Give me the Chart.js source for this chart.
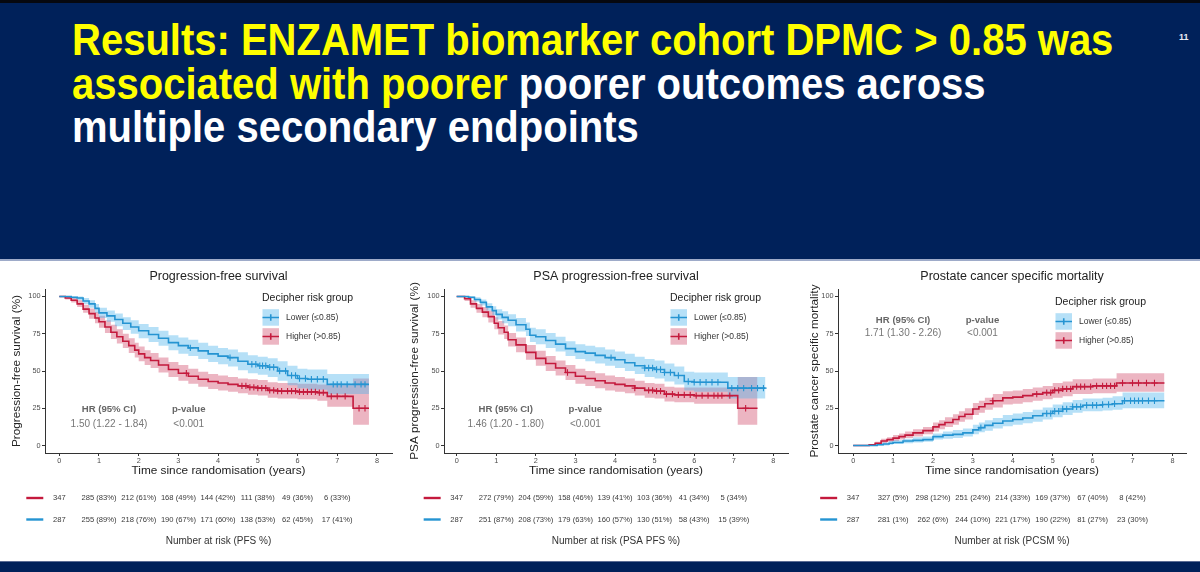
<!DOCTYPE html>
<html>
<head>
<meta charset="utf-8">
<script src="https://cdn.jsdelivr.net/npm/chart.js@4.4.1/dist/chart.umd.min.js"></script>
<style>
  body { margin: 0; width: 1200px; height: 572px; overflow: hidden; background: #00215a; position: relative;
         font-family: "Liberation Sans", Arial, sans-serif; }
  #topbar { position: absolute; left: 0; top: 0; width: 1200px; height: 3px; background: #06080f; }
  #heading { position: absolute; left: 72px; top: 18.8px; width: 1100px; font-weight: bold; font-size: 40px;
             line-height: 39.5px; color: #ffffff; white-space: nowrap;
             transform: scaleY(1.1); transform-origin: top left; }
  #heading .hl { color: #ffff00; }
  #pgnum { position: absolute; left: 1179px; top: 32px; font-size: 9px; font-weight: bold; color: #e8ecf5; }
  #panel { position: absolute; left: 0; top: 259px; width: 1200px; height: 300px; background: #fff;
           border-top: 2px solid #9eabc9; border-bottom: 1px solid #5a6c94; }
  canvas { position: absolute; top: 262px; }
</style>
</head>
<body>
<div id="topbar"></div>
<div id="heading"><span class="hl">Results: ENZAMET biomarker cohort DPMC &gt; 0.85 was<br>associated with poorer</span> poorer outcomes across<br>multiple secondary endpoints</div>
<div id="pgnum">11</div>
<div id="panel"></div>
<canvas id="c1" width="400" height="296" style="left:0px"></canvas>
<canvas id="c2" width="400" height="296" style="left:400px"></canvas>
<canvas id="c3" width="400" height="296" style="left:800px"></canvas>
<script>
const years = [0, 1, 2, 3, 4, 5, 6, 7, 8];
const yTicks = [0, 25, 50, 75, 100];

// Progression-free survival
const pfsLowT = [0, 0.3, 0.45, 0.6, 0.75, 0.9, 1.0, 1.2, 1.4, 1.6, 1.8, 2.0, 2.25, 2.5, 2.75, 3.0, 3.25, 3.5, 3.75, 4.0, 4.25, 4.5, 4.75, 5.0, 5.25, 5.5, 5.75, 6.0, 6.25, 6.75, 7.8];
const pfsLowS = [100, 99.5, 99, 97, 95, 92, 89, 87, 84.5, 82, 79.5, 77, 74.5, 72, 69, 67, 65.5, 63.5, 61.5, 60, 59, 56.5, 54.5, 53.5, 52.5, 50, 47, 45, 44.5, 41, 41];
const pfsLowLo = [100, 98.5, 97.5, 95, 92.5, 89, 85.5, 83, 80, 77.5, 75, 72, 69.5, 67, 64, 61.5, 60, 58, 56, 54.5, 53, 50.5, 48.5, 47.5, 46, 43.5, 40.5, 38.5, 37.5, 34.5, 34.5];
const pfsLowHi = [100, 100, 100, 99, 97.5, 95, 92.5, 90.5, 88.5, 86, 84, 81.5, 79.5, 77, 74, 72.5, 71, 69, 67, 65.5, 64.5, 62.5, 60.5, 59.5, 58.5, 56.5, 53.5, 51.5, 51, 48, 48];
const pfsLowCens = [3.3, 4.3, 4.85, 4.95, 5.05, 5.12, 5.2, 5.3, 5.4, 5.55, 5.7, 5.85, 5.95, 6.05, 6.2, 6.35, 6.5, 6.65, 6.9, 7.0, 7.1, 7.25, 7.45, 7.6, 7.7];
const pfsHighT = [0, 0.15, 0.3, 0.45, 0.6, 0.75, 0.9, 1.0, 1.15, 1.3, 1.45, 1.6, 1.75, 1.9, 2.0, 2.15, 2.3, 2.5, 2.75, 3.0, 3.25, 3.5, 3.75, 4.0, 4.25, 4.5, 4.75, 5.0, 5.25, 5.5, 6.0, 6.5, 6.75, 7.4, 7.8];
const pfsHighS = [100, 99, 97.5, 95, 91.5, 88.5, 85.5, 83, 79.5, 76, 73, 70, 67, 64, 61.5, 59, 57, 54, 51, 48.5, 46.5, 44.5, 43, 42, 41, 40, 39, 38.5, 37, 36.5, 36, 35.5, 33, 25, 25];
const pfsHighLo = [100, 98, 96, 93, 89, 85, 82, 79, 75.5, 71.5, 68.5, 65.5, 62, 59, 56.5, 54, 52, 49, 46, 43.5, 41.5, 39.5, 38, 37, 36, 35, 34, 33.5, 32, 31.5, 31, 30, 26, 14, 14];
const pfsHighHi = [100, 100, 99, 97.5, 94.5, 92, 89.5, 87, 84, 81, 78, 75, 72, 69, 66.5, 64, 62, 59, 56, 54, 51.5, 49.5, 48, 47, 46, 45, 44.5, 44, 42.5, 42, 41.5, 41, 40.5, 45, 45];
const pfsHighCens = [3.2, 4.6, 4.7, 4.8, 4.9, 5.0, 5.1, 5.2, 5.3, 5.4, 5.5, 5.6, 5.75, 5.85, 5.95, 6.05, 6.15, 6.25, 6.35, 6.45, 6.55, 6.65, 6.85, 7.0, 7.2, 7.55, 7.7];
const pfsRiskHigh = ["347", "285 (83%)", "212 (61%)", "168 (49%)", "144 (42%)", "111 (38%)", "49 (36%)", "6 (33%)"];
const pfsRiskLow = ["287", "255 (89%)", "218 (76%)", "190 (67%)", "171 (60%)", "138 (53%)", "62 (45%)", "17 (41%)"];

// PSA progression-free survival
const psaLowT = [0, 0.3, 0.45, 0.6, 0.75, 0.9, 1.0, 1.15, 1.3, 1.5, 1.75, 1.85, 2.0, 2.25, 2.5, 2.75, 3.0, 3.25, 3.5, 3.75, 4.0, 4.25, 4.5, 4.75, 5.0, 5.25, 5.5, 5.75, 6.0, 6.85, 7.8];
const psaLowS = [100, 99.5, 98, 96, 93, 90.5, 88, 86, 84, 81, 78, 74, 73, 70.5, 68, 65, 63, 62, 60.5, 59, 57.5, 55.5, 53.5, 52, 51, 49, 47, 43, 42.5, 38.5, 38.5];
const psaLowLo = [100, 98.5, 96.5, 94, 90.5, 87.5, 84.5, 82, 80, 76.5, 73.5, 69.5, 68, 65.5, 63, 60, 58, 56.5, 55, 53.5, 52, 50, 48, 46, 45, 43, 41, 37, 36, 31.5, 31.5];
const psaLowHi = [100, 100, 99.5, 98, 95.5, 93.5, 91.5, 90, 88, 85.5, 82.5, 79, 78, 75.5, 73, 70, 68, 67, 66, 64.5, 63, 61.5, 59.5, 58, 57, 55, 53, 49.5, 49, 46, 46];
const psaLowCens = [3.9, 4.75, 4.85, 4.95, 5.05, 5.15, 5.25, 5.4, 5.6, 5.85, 6.0, 6.15, 6.3, 6.45, 6.6, 6.95, 7.1, 7.25, 7.45, 7.6, 7.75];
const psaHighT = [0, 0.2, 0.35, 0.5, 0.65, 0.8, 0.95, 1.05, 1.2, 1.3, 1.5, 1.75, 2.0, 2.25, 2.5, 2.75, 3.0, 3.25, 3.5, 3.75, 4.0, 4.25, 4.5, 4.75, 5.0, 5.25, 5.5, 6.0, 7.1, 7.6];
const psaHighS = [100, 98.5, 95, 92, 89.5, 86.5, 82, 79, 76, 71, 67.5, 62.5, 58.5, 55, 52, 49, 46.5, 45, 43.5, 42, 41, 40, 38.5, 37, 36.5, 34.5, 34, 33.5, 25, 25];
const psaHighLo = [100, 97, 92.5, 89, 86, 82.5, 78, 74.5, 71.5, 66.5, 62.5, 57.5, 53.5, 50, 47, 44, 41.5, 40, 38.5, 37, 36, 35, 33.5, 32, 31.5, 29.5, 29, 28, 14, 14];
const psaHighHi = [100, 100, 97.5, 95, 93, 90.5, 86, 83.5, 80.5, 75.5, 72.5, 67.5, 63.5, 60, 57, 54, 51.5, 50, 48.5, 47, 46, 45, 43.5, 42, 41.5, 39.5, 39, 39, 46, 46];
const psaHighCens = [2.8, 4.5, 4.85, 4.95, 5.05, 5.15, 5.3, 5.45, 5.6, 5.75, 5.9, 6.05, 6.2, 6.35, 6.5, 6.6, 6.7, 6.9, 7.3];
const psaRiskHigh = ["347", "272 (79%)", "204 (59%)", "158 (46%)", "139 (41%)", "103 (36%)", "41 (34%)", "5 (34%)"];
const psaRiskLow = ["287", "251 (87%)", "208 (73%)", "179 (63%)", "160 (57%)", "130 (51%)", "58 (43%)", "15 (39%)"];

// Prostate cancer specific mortality
const pcsmLowT = [0, 0.6, 0.75, 0.9, 1.0, 1.25, 1.5, 1.75, 2.0, 2.25, 2.5, 2.75, 3.0, 3.15, 3.3, 3.5, 3.75, 4.0, 4.25, 4.5, 4.75, 5.0, 5.25, 5.5, 5.75, 6.25, 6.5, 6.75, 7.8];
const pcsmLowS = [0, 0.5, 1, 1.5, 2, 3, 3.5, 4, 6, 7, 7.5, 8.5, 10.5, 12, 13.5, 15, 16.5, 17.5, 18.5, 20, 21.5, 23, 24.5, 26, 27, 27.5, 28, 30, 30];
const pcsmLowLo = [0, 0, 0, 0.5, 1, 1.5, 2, 2.5, 4, 4.5, 5, 6, 7.5, 9, 10, 11.5, 13, 14, 15, 16, 17.5, 19, 20.5, 22, 23, 23.5, 24, 25, 25];
const pcsmLowHi = [0, 1, 2, 3, 3.5, 4.5, 5.5, 6, 8, 9.5, 10.5, 11.5, 14, 15.5, 17, 18.5, 20.5, 21.5, 22.5, 24, 25.5, 27.5, 29, 30.5, 31.5, 32, 33, 35.5, 35.5];
const pcsmLowCens = [3.2, 4.85, 4.95, 5.05, 5.15, 5.25, 5.35, 5.5, 5.6, 5.7, 5.85, 6.0, 6.1, 6.25, 6.4, 6.55, 6.8, 6.95, 7.05, 7.15, 7.25, 7.4, 7.55];
const pcsmHighT = [0, 0.4, 0.55, 0.7, 0.85, 1.0, 1.15, 1.3, 1.5, 1.75, 2.0, 2.15, 2.3, 2.5, 2.65, 2.8, 3.0, 3.15, 3.3, 3.5, 3.75, 4.0, 4.25, 4.5, 4.75, 5.0, 5.25, 5.5, 6.0, 6.6, 7.8];
const pcsmHighS = [0, 0.5, 1.5, 3, 4, 5, 6, 7, 8.5, 10, 12.5, 14, 15.5, 17.5, 19.5, 21, 24.5, 26, 28, 30, 32, 32.5, 33.5, 34.5, 35.5, 37, 38, 39.5, 40, 42, 42];
const pcsmHighLo = [0, 0, 0.5, 1.5, 2.5, 3, 4, 5, 6, 7.5, 9.5, 11, 12.5, 14, 16, 17.5, 20.5, 22, 24, 25.5, 27.5, 28, 29, 30, 31, 32, 33, 34.5, 35, 36, 36];
const pcsmHighHi = [0, 1, 2.5, 4.5, 5.5, 7, 8, 9.5, 11, 12.5, 15.5, 17, 19, 21, 23, 25, 28.5, 30, 32, 34.5, 36.5, 37, 38, 39, 40, 42, 43, 44.5, 45, 48.5, 48.5];
const pcsmHighCens = [3.5, 4.6, 4.85, 4.95, 5.05, 5.15, 5.25, 5.35, 5.45, 5.6, 5.7, 5.8, 5.95, 6.1, 6.25, 6.35, 6.45, 6.55, 6.75, 7.0, 7.15, 7.35, 7.55];
const pcsmRiskHigh = ["347", "327 (5%)", "298 (12%)", "251 (24%)", "214 (33%)", "169 (37%)", "67 (40%)", "8 (42%)"];
const pcsmRiskLow = ["287", "281 (1%)", "262 (6%)", "244 (10%)", "221 (17%)", "190 (22%)", "81 (27%)", "23 (30%)"];

const groupLabels = ["Lower (\u22640.85)", "Higher (>0.85)"];

const RED = "#c41a3d";
const BLUE = "#2594d2";
const RED_BAND = "rgba(205, 60, 95, 0.38)";
const BLUE_BAND = "rgba(80, 180, 235, 0.42)";
const FONT = '"Liberation Sans", Arial, sans-serif';

function stepAt(t, times, vals) {
  let v = vals[0];
  for (let i = 0; i < times.length; i++) {
    if (times[i] <= t) v = vals[i];
  }
  return v;
}

function pts(times, vals) {
  return times.map((t, i) => ({ x: t, y: vals[i] }));
}

// KM step: value holds until the next event time, so the step comes "before" each new point
function curveSets(times, est, lo, hi, cens, color, band) {
  return [
    { data: pts(times, hi), stepped: "before", borderWidth: 0, pointRadius: 0, fill: "+1", backgroundColor: band, order: 3 },
    { data: pts(times, lo), stepped: "before", borderWidth: 0, pointRadius: 0, fill: false, order: 3 },
    { data: pts(times, est), stepped: "before", borderColor: color, borderWidth: 1.6, pointRadius: 0, fill: false, order: 2 },
    {
      data: cens.map((t) => ({ x: t, y: stepAt(t, times, est) })),
      showLine: false, pointStyle: "cross", pointRadius: 3.2, pointBorderWidth: 1.1,
      pointBorderColor: color, borderColor: color, order: 1,
    },
  ];
}

function makeChart(id, p) {
  const overlay = {
    id: "overlay" + id,
    afterDraw(chart) {
      const ctx = chart.ctx;
      const xs = chart.scales.x;
      const ys = chart.scales.y;
      ctx.save();
      // chart title
      ctx.fillStyle = "#222";
      ctx.textAlign = "center";
      ctx.textBaseline = "middle";
      ctx.font = "12.5px " + FONT;
      ctx.fillText(p.title, (chart.chartArea.left + chart.chartArea.right) / 2, 15);

      // HR annotation
      ctx.fillStyle = "#666";
      ctx.font = "bold 9.6px " + FONT;
      ctx.fillText("HR (95% CI)", xs.getPixelForValue(p.hrX), ys.getPixelForValue(p.hrY));
      ctx.fillText("p-value", xs.getPixelForValue(p.pX), ys.getPixelForValue(p.hrY));
      ctx.fillStyle = "#777";
      ctx.font = "10px " + FONT;
      ctx.fillText(p.hrText, xs.getPixelForValue(p.hrX), ys.getPixelForValue(p.hrY2));
      ctx.fillText("<0.001", xs.getPixelForValue(p.pX), ys.getPixelForValue(p.hrY2));

      // legend
      ctx.textAlign = "left";
      ctx.fillStyle = "#222";
      ctx.font = "10.5px " + FONT;
      ctx.fillText("Decipher risk group", p.legX, p.legY);
      const keys = [[BLUE, BLUE_BAND], [RED, RED_BAND]];
      keys.forEach((k, i) => {
        const kx = p.legX + 0.5;
        const ky = p.legY + 11.5 + i * 19;
        ctx.fillStyle = k[1];
        ctx.fillRect(kx, ky, 16.5, 16.5);
        ctx.strokeStyle = k[0];
        ctx.lineWidth = 1.6;
        ctx.beginPath();
        ctx.moveTo(kx, ky + 8.25);
        ctx.lineTo(kx + 16.5, ky + 8.25);
        ctx.moveTo(kx + 8.25, ky + 5);
        ctx.lineTo(kx + 8.25, ky + 11.5);
        ctx.stroke();
        ctx.fillStyle = "#333";
        ctx.font = "8.5px " + FONT;
        ctx.fillText(groupLabels[i], kx + 23.5, ky + 8.5);
      });

      // number at risk table, columns on the x scale
      const x0 = xs.getPixelForValue(0);
      const rows = [[p.riskHigh, RED, 236], [p.riskLow, BLUE, 257.5]];
      ctx.textAlign = "center";
      rows.forEach((r) => {
        ctx.strokeStyle = r[1];
        ctx.lineWidth = 2.4;
        ctx.beginPath();
        ctx.moveTo(x0 - 33, r[2]);
        ctx.lineTo(x0 - 16, r[2]);
        ctx.stroke();
        ctx.fillStyle = "#3a3a3a";
        ctx.font = "7.6px " + FONT;
        r[0].forEach((txt, i) => {
          ctx.fillText(txt, xs.getPixelForValue(years[i]), r[2]);
        });
      });
      ctx.fillStyle = "#333";
      ctx.font = "10px " + FONT;
      ctx.fillText(p.riskTitle, (chart.chartArea.left + chart.chartArea.right) / 2, 279.5);
      ctx.restore();
    },
  };

  new Chart(document.getElementById(id), {
    type: "line",
    data: {
      datasets: [
        ...curveSets(p.low[0], p.low[1], p.low[2], p.low[3], p.low[4], BLUE, BLUE_BAND),
        ...curveSets(p.high[0], p.high[1], p.high[2], p.high[3], p.high[4], RED, RED_BAND),
      ],
    },
    options: {
      responsive: false,
      animation: false,
      layout: { padding: { top: 27, bottom: 73, left: 0, right: p.padRight } },
      plugins: { legend: { display: false }, tooltip: { enabled: false } },
      scales: {
        x: {
          type: "linear",
          min: p.xMin,
          max: p.xMax,
          afterBuildTicks: (s) => { s.ticks = years.map((v) => ({ value: v })); },
          afterFit: (s) => { s.height = 32; },
          grid: { display: true, drawOnChartArea: false, drawTicks: true, tickLength: 3, color: "#333" },
          border: { display: true, color: "#333", width: 1 },
          ticks: { color: "#4d4d4d", font: { size: 7.3, family: FONT }, padding: 1, maxRotation: 0 },
          title: { display: true, text: "Time since randomisation (years)", color: "#222",
                   font: { size: 11.8, family: FONT }, padding: { top: 0, bottom: 6.9 } },
        },
        y: {
          type: "linear",
          min: -5,
          max: 105,
          afterBuildTicks: (s) => { s.ticks = yTicks.map((v) => ({ value: v })); },
          afterFit: (s) => { s.width = p.yWidth; },
          grid: { display: true, drawOnChartArea: false, drawTicks: true, tickLength: 3, color: "#333" },
          border: { display: true, color: "#333", width: 1 },
          ticks: { color: "#4d4d4d", font: { size: 7.3, family: FONT }, padding: 1.5 },
          title: { display: true, text: p.yTitle, color: "#222",
                   font: { size: 11.8, family: FONT }, padding: { top: p.yTitlePad, bottom: 0 } },
        },
      },
    },
    plugins: [overlay],
  });
}

makeChart("c1", {
  title: "Progression-free survival",
  yTitle: "Progression-free survival (%)",
  xMin: -0.36, xMax: 8.38, padRight: 8, yWidth: 45, yTitlePad: 10,
  low: [pfsLowT, pfsLowS, pfsLowLo, pfsLowHi, pfsLowCens],
  high: [pfsHighT, pfsHighS, pfsHighLo, pfsHighHi, pfsHighCens],
  hrX: 1.25, pX: 3.26, hrY: 24.6, hrY2: 14.5, hrText: "1.50 (1.22 - 1.84)",
  legX: 262, legY: 35.7,
  riskHigh: pfsRiskHigh, riskLow: pfsRiskLow, riskTitle: "Number at risk (PFS %)",
});

makeChart("c2", {
  title: "PSA progression-free survival",
  yTitle: "PSA progression-free survival (%)",
  xMin: -0.32, xMax: 8.37, padRight: 12, yWidth: 44, yTitlePad: 8,
  low: [psaLowT, psaLowS, psaLowLo, psaLowHi, psaLowCens],
  high: [psaHighT, psaHighS, psaHighLo, psaHighHi, psaHighCens],
  hrX: 1.24, pX: 3.25, hrY: 24.6, hrY2: 14.5, hrText: "1.46 (1.20 - 1.80)",
  legX: 270, legY: 35.7,
  riskHigh: psaRiskHigh, riskLow: psaRiskLow, riskTitle: "Number at risk (PSA PFS %)",
});

makeChart("c3", {
  title: "Prostate cancer specific mortality",
  yTitle: "Prostate cancer specific mortality",
  xMin: -0.38, xMax: 8.34, padRight: 14, yWidth: 38, yTitlePad: 8,
  low: [pcsmLowT, pcsmLowS, pcsmLowLo, pcsmLowHi, pcsmLowCens],
  high: [pcsmHighT, pcsmHighS, pcsmHighLo, pcsmHighHi, pcsmHighCens],
  hrX: 1.25, pX: 3.24, hrY: 84.3, hrY2: 75, hrText: "1.71 (1.30 - 2.26)",
  legX: 255, legY: 39.7,
  riskHigh: pcsmRiskHigh, riskLow: pcsmRiskLow, riskTitle: "Number at risk (PCSM %)",
});
</script>
</body>
</html>
